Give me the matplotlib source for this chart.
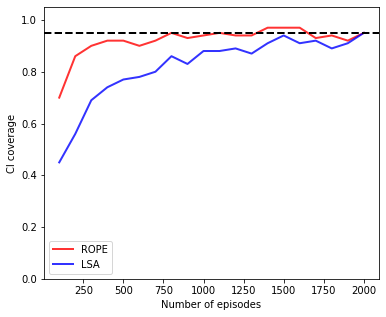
import numpy as np
import matplotlib
matplotlib.use('Agg')
import matplotlib.pyplot as plt

episodes = list(range(100, 2001, 100))
rope = [0.70, 0.86, 0.90, 0.92, 0.92, 0.90, 0.92, 0.95, 0.93, 0.94,
        0.95, 0.94, 0.94, 0.97, 0.97, 0.97, 0.93, 0.94, 0.92, 0.95]
lsa = [0.45, 0.56, 0.69, 0.74, 0.77, 0.78, 0.80, 0.86, 0.83, 0.88,
       0.88, 0.89, 0.87, 0.91, 0.94, 0.91, 0.92, 0.89, 0.91, 0.95]
target = 0.95

fig, ax = plt.subplots(figsize=(386 / 72, 317 / 72), dpi=72)
fig.subplots_adjust(left=0.114, right=0.982, top=0.978, bottom=0.12)

ax.plot(episodes, rope, color='red', alpha=0.8, lw=2, label='ROPE')
ax.plot(episodes, lsa, color='blue', alpha=0.8, lw=2, label='LSA')
ax.axhline(target, color='black', ls='--', lw=2)

ax.set_ylim(0, 1.05)
ax.set_xticks([250, 500, 750, 1000, 1250, 1500, 1750, 2000])
ax.set_xlabel('Number of episodes')
ax.set_ylabel('CI coverage')
ax.legend(loc='lower left')

fig.savefig('out.png', dpi=72)
